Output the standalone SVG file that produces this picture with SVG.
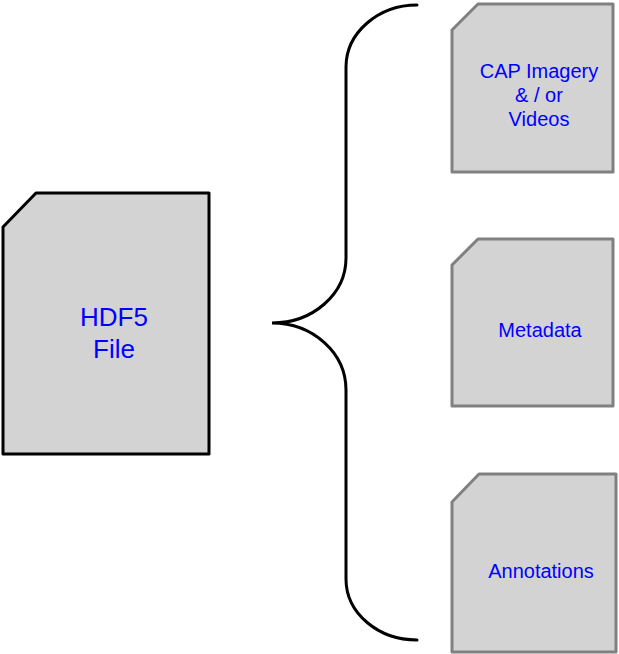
<svg xmlns="http://www.w3.org/2000/svg" width="619" height="654" viewBox="0 0 619 654">
<style>
.big{fill:#d3d3d3;stroke:#000;stroke-width:3;stroke-linejoin:round}
.sm{fill:#d3d3d3;stroke:#808080;stroke-width:3;stroke-linejoin:round}
.t{font-family:"Liberation Sans",Arial,sans-serif;fill:#0000ff;text-anchor:middle}
.brace{fill:none;stroke:#000;stroke-width:3;stroke-linecap:round}
</style>
<g id="hdf5">
<path class="big" d="M36,193 L209,193 L209,454 L3,454 L3,227 Z"/>
<text class="t" x="114" y="326" font-size="26">HDF5</text>
<text class="t" x="114" y="358" font-size="26">File</text>
</g>
<g id="connectors">
<path class="brace" d="M417,5 C378,5 346,33 346,67 L346,258 C346,294 313,323 272,323 C313,323 346,353 346,390 L346,579 C346,613 378,640 417,640"/>
</g>
<g id="cap">
<path class="sm" d="M478,4 L613,4 L613,172 L452,172 L452,30 Z"/>
<text class="t" x="539" y="78" font-size="20">CAP Imagery</text>
<text class="t" x="539" y="102" font-size="20">&amp; / or</text>
<text class="t" x="539" y="126" font-size="20">Videos</text>
</g>
<g id="metadata">
<path class="sm" d="M478,239 L613,239 L613,406 L452,406 L452,265 Z"/>
<text class="t" x="540" y="337" font-size="20">Metadata</text>
</g>
<g id="annotations">
<path class="sm" d="M479,474 L616,474 L616,652 L452,652 L452,502 Z"/>
<text class="t" x="541" y="578" font-size="20">Annotations</text>
</g>
</svg>
